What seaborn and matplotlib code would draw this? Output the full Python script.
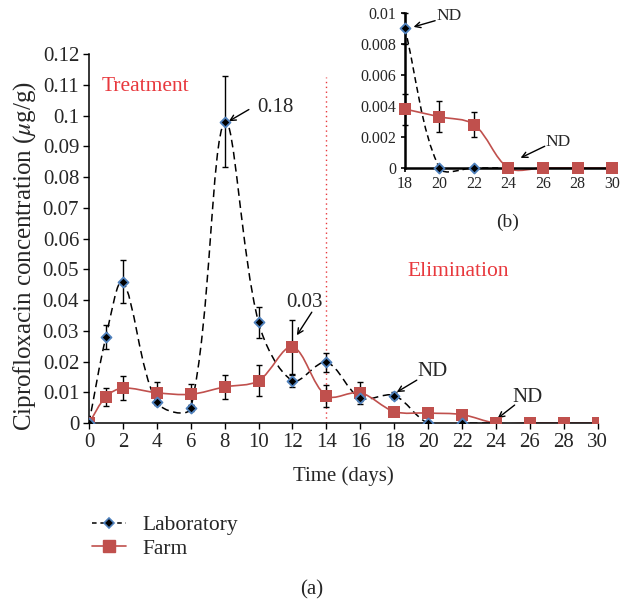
import numpy as np
import matplotlib
matplotlib.use("Agg")
import matplotlib.pyplot as plt
import seaborn as sns
from matplotlib.path import Path
from matplotlib.patches import PathPatch
from matplotlib.lines import Line2D
from matplotlib.ticker import FuncFormatter

# data
lab_days = [0, 1, 2, 4, 6, 8, 10, 12, 14, 16, 18, 20, 22, 24]
lab_conc = [0, 0.028, 0.046, 0.0068, 0.0049, 0.098, 0.0328, 0.0138, 0.0198, 0.0082, 0.009, 0, 0, 0]
lab_err = [0, 0.004, 0.007, 0.001, 0.001, 0.0148, 0.005, 0.002, 0.003, 0.001, 0.001, 0, 0, 0]

farm_days = [0, 1, 2, 4, 6, 8, 10, 12, 14, 16, 18, 20, 22, 24, 26, 28, 30]
farm_conc = [0, 0.0086, 0.0114, 0.0099, 0.0094, 0.0118, 0.0138, 0.0248, 0.0089, 0.0099,
             0.0038, 0.0033, 0.0028, 0, 0, 0, 0]
farm_err = [0, 0.003, 0.004, 0.0035, 0.0035, 0.004, 0.005, 0.0087, 0.0035, 0.0035,
            0.001, 0.001, 0.0008, 0, 0, 0, 0]

LAB_EDGE = "#4f81bd"
FARM = "#c0504d"
RED = "#e8383d"
SERIF = ["Liberation Serif", "DejaVu Serif"]

sns.set_style("ticks")
plt.rcParams["font.family"] = SERIF
plt.rcParams["mathtext.fontset"] = "stix"


def smooth_path(ax, xs, ys):
    # excel-like smoothed line, control points scaled by on-screen segment lengths
    pts = np.column_stack([xs, ys]).astype(float)
    disp = ax.transData.transform(pts)
    n = len(pts)
    f = 1 / 6
    verts = [pts[0]]
    codes = [Path.MOVETO]
    for i in range(n - 1):
        i0, i3 = max(i - 1, 0), min(i + 2, n - 1)
        d01 = np.hypot(*(disp[i] - disp[i0]))
        d12 = np.hypot(*(disp[i + 1] - disp[i]))
        d23 = np.hypot(*(disp[i3] - disp[i + 1]))
        f1 = 2 * f * d12 / (d01 + d12) if d01 + d12 > 0 else 0
        f2 = 2 * f * d12 / (d12 + d23) if d12 + d23 > 0 else 0
        c1 = pts[i] + (pts[i + 1] - pts[i0]) * f1
        c2 = pts[i + 1] - (pts[i3] - pts[i]) * f2
        verts += [c1, c2, pts[i + 1]]
        codes += [Path.CURVE4] * 3
    return Path(verts, codes)


def draw_series(ax, start=0, dash=(5, 3), clip=True):
    li = [i for i, d in enumerate(lab_days) if d >= start]
    fi = [i for i, d in enumerate(farm_days) if d >= start]
    lx, ly, le = ([v[i] for i in li] for v in (lab_days, lab_conc, lab_err))
    fx, fy, fe = ([v[i] for i in fi] for v in (farm_days, farm_conc, farm_err))
    arts = []
    arts.append(ax.add_patch(PathPatch(smooth_path(ax, lx, ly), fill=False, edgecolor="black",
                                       lw=1.1, linestyle=(0, dash), zorder=2)))
    arts.append(ax.add_patch(PathPatch(smooth_path(ax, fx, fy), fill=False, edgecolor=FARM,
                                       lw=1.2, zorder=2)))
    eb1 = ax.errorbar(fx, fy, yerr=fe, fmt="none", ecolor="black", elinewidth=1,
                      capsize=2.5, zorder=3)
    eb2 = ax.errorbar(lx, ly, yerr=le, fmt="none", ecolor="black", elinewidth=1,
                      capsize=2.5, zorder=3)
    for eb in (eb1, eb2):
        arts += list(eb.lines[1]) + list(eb.lines[2])
    n_before = len(ax.collections)
    sns.scatterplot(x=fx, y=fy, ax=ax, marker="s", s=80, color=FARM,
                    edgecolor=FARM, linewidth=0, zorder=4)
    sns.scatterplot(x=lx[:-1], y=ly[:-1], ax=ax, marker="D", s=26, color="black",
                    edgecolor=LAB_EDGE, linewidth=1.3, zorder=5)
    arts += ax.collections[n_before:]
    if not clip:
        for a in arts:
            a.set_clip_on(False)


fig = plt.figure(figsize=(6.22, 6.02), dpi=100)
ax = fig.add_axes([0.143, 0.297, 0.818, 0.613])
ax.set_xlim(0, 30)
ax.set_ylim(0, 0.12)
draw_series(ax)
ax.set_xlim(0, 30)
ax.set_ylim(0, 0.12)
ax.set_xticks(range(0, 31, 2))
ax.set_yticks(np.arange(0, 0.1201, 0.01))
ax.yaxis.set_major_formatter(FuncFormatter(lambda v, p: f"{round(v, 3):g}"))
ax.tick_params(labelsize=15, length=4, width=1, pad=3, color="black", direction="out")
for s in ("top", "right"):
    ax.spines[s].set_visible(False)
for s in ("left", "bottom"):
    ax.spines[s].set_linewidth(1.1)
    ax.spines[s].set_color("black")
ax.set_xlabel("Time (days)", fontsize=15)
ax.set_ylabel(r"Ciprofloxacin concentration ($\mu$g/g)", fontsize=18)
ax.xaxis.set_label_coords(0.5, -0.118)
ax.yaxis.set_label_coords(-0.1, 0.452)

ax.plot([14, 14], [0, 0.1125], color=RED, lw=1, linestyle=(0, (1, 2.5)), zorder=1)
ax.text(0.77, 0.1096, "Treatment", color=RED, fontsize=15.5, va="center")
ax.text(18.8, 0.0494, "Elimination", color=RED, fontsize=15.5, va="center")

arrow = dict(arrowstyle="->", color="black", lw=1, shrinkA=0, shrinkB=0)
ax.annotate("", xy=(8.25, 0.0982), xytext=(9.43, 0.102), arrowprops=arrow)
ax.text(9.95, 0.1028, "0.18", fontsize=15, va="center")
ax.annotate("", xy=(12.26, 0.0286), xytext=(13.14, 0.0361), arrowprops=arrow)
ax.text(12.73, 0.0393, "0.03", fontsize=15, va="center", ha="center")
ax.annotate("", xy=(18.15, 0.0101), xytext=(19.33, 0.014), arrowprops=arrow)
ax.text(20.27, 0.0169, "ND", fontsize=15, va="center", ha="center")
ax.annotate("", xy=(24.1, 0.0016), xytext=(25.1, 0.0059), arrowprops=arrow)
ax.text(25.87, 0.0085, "ND", fontsize=15, va="center", ha="center")

# inset (b)
ins = fig.add_axes([0.651, 0.721, 0.333, 0.2575])
ins.set_xlim(18, 30)
ins.set_ylim(0, 0.01)
draw_series(ins, start=18, dash=(4, 2.5), clip=False)
ins.set_xlim(18, 30)
ins.set_ylim(0, 0.01)
ins.set_xticks(range(18, 31, 2))
ins.set_yticks(np.arange(0, 0.01001, 0.002))
ins.yaxis.set_major_formatter(FuncFormatter(lambda v, p: f"{round(v, 4):g}"))
ins.tick_params(labelsize=11.5, length=3, width=1.2, pad=3, color="black", direction="out")
ins.patch.set_alpha(0)
for s in ("top", "right"):
    ins.spines[s].set_visible(False)
for s in ("left", "bottom"):
    ins.spines[s].set_linewidth(1.8)
    ins.spines[s].set_color("black")
ins.annotate("", xy=(18.5, 0.0091), xytext=(19.75, 0.0095), arrowprops=arrow)
ins.text(19.8, 0.0098, "ND", fontsize=12.5, va="center")
ins.annotate("", xy=(24.7, 0.00065), xytext=(26.1, 0.0014), arrowprops=arrow)
ins.text(26.15, 0.0017, "ND", fontsize=12.5, va="center")
fig.text(508 / 622, 1 - 222 / 602, "(b)", fontsize=14, ha="center", va="center")

fig.text(312 / 622, 1 - 590 / 602, "(a)", fontsize=15, ha="center", va="center")

handles = [
    Line2D([], [], color="black", lw=1.1, linestyle=(0, (3, 2.5)), marker="D", markersize=5,
           markerfacecolor="black", markeredgecolor=LAB_EDGE, markeredgewidth=1.2),
    Line2D([], [], color=FARM, lw=1.2, marker="s", markersize=9,
           markerfacecolor=FARM, markeredgecolor=FARM),
]
fig.legend(handles, ["Laboratory", "Farm"], loc="center left",
           bbox_to_anchor=(0.116, 1 - 537 / 602), frameon=False, fontsize=15.5,
           handlelength=1.6, labelspacing=0.15, handletextpad=0.75)

fig.savefig("out.png", dpi=100)
